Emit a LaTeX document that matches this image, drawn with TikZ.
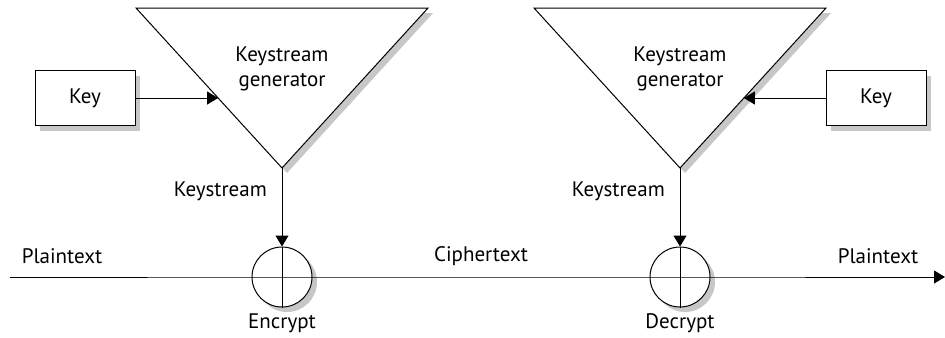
\documentclass[tikz,border=0pt]{standalone}
\usepackage{fontspec}
\setmainfont{PT Sans}
\usetikzlibrary{arrows.meta, calc, shadows}

\begin{document}
\begin{tikzpicture}[x=0.5pt, y=-0.5pt, line width=0.5pt,
    font=\fontsize{10.5}{12.5}\selectfont,
    shade/.style={drop shadow={shadow xshift=2.5pt, shadow yshift=-2.5pt,
      fill=black!22, opacity=1}},
    keybox/.style={draw, fill=white, shade, minimum width=50pt, minimum height=27.5pt},
    xor/.style={draw, fill=white, shade, circle, minimum size=30pt, inner sep=0pt},
    tip/.style={-{Triangle[length=5.5pt, width=6.5pt]}}]
  \useasboundingbox (0, 0) rectangle (945, 337);

  % keystream generators
  \coordinate (TL) at (136, 8);
  \coordinate (TR) at (428, 8);
  \coordinate (AL) at (282, 168);
  \coordinate (UL) at (534, 8);
  \coordinate (UR) at (826, 8);
  \coordinate (AR) at (680, 168);

  \draw[fill=white, shade] (TL) -- (TR) -- (AL) -- cycle;
  \draw[fill=white, shade] (UL) -- (UR) -- (AR) -- cycle;
  \node[align=center] (genL) at (282, 69) {Keystream\\generator};
  \node[align=center] (genR) at (680, 69) {Keystream\\generator};

  % keys
  \node[keybox] (keyL) at (85, 98) {Key};
  \node[keybox] (keyR) at (876, 98) {Key};
  \draw[tip] (keyL) -- ($(TL)!0.5625!(AL)$);
  \draw[tip] (keyR) -- ($(UR)!0.5625!(AR)$);

  % combiners
  \node[xor] (enc) at (282, 277) {};
  \node[xor] (dec) at (680, 277) {};
  \coordinate (start) at (10, 277);
  \coordinate (stop) at (945, 277);

  \draw[tip] (start) -- (enc.center) -- (dec.center) -- (stop);
  \draw (enc.north) -- (enc.south);
  \draw (dec.north) -- (dec.south);
  \draw[tip] (AL) -- node[left=4pt, yshift=8pt] {Keystream} (enc);
  \draw[tip] (AR) -- node[left=4pt, yshift=8pt] {Keystream} (dec);

  \node (plainL) at (62, 256) {Plaintext};
  \node (cipher) at (481, 256) {Ciphertext};
  \node (plainR) at (878, 256) {Plaintext};
  \node (encLbl) at (282, 323) {Encrypt};
  \node (decLbl) at (680, 323) {Decrypt};
\end{tikzpicture}
\end{document}
